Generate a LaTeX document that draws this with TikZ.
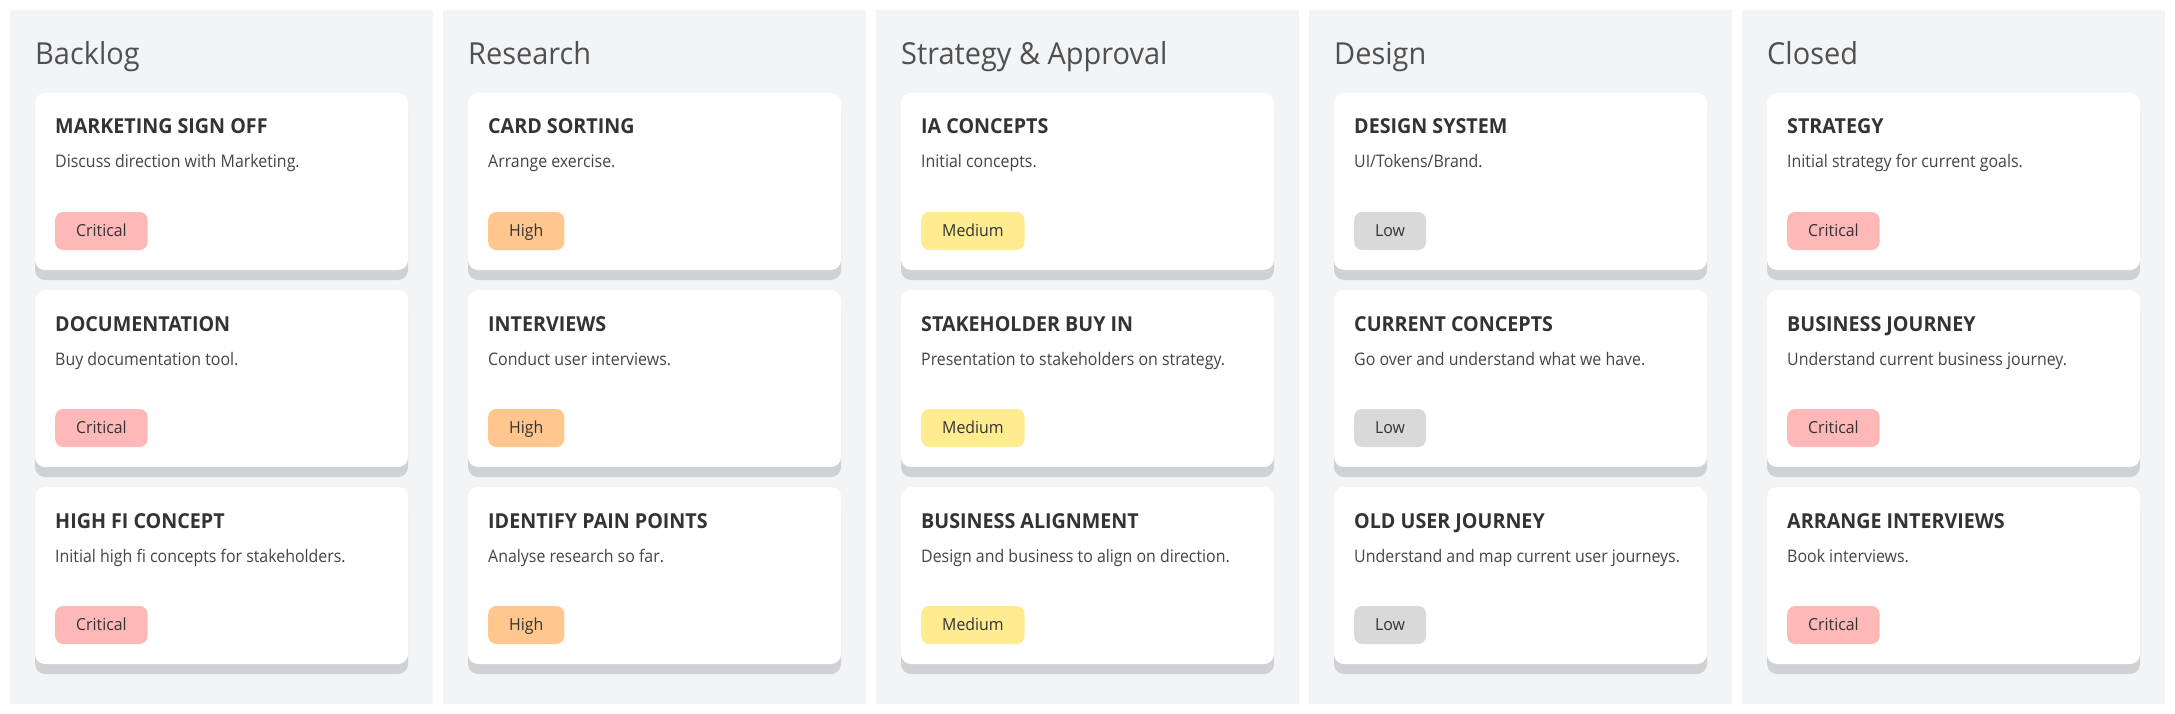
\documentclass[tikz,border=0pt]{standalone}
\usepackage{fontspec}
\setmainfont{Open Sans}
\newfontfamily\kbfont[FakeStretch=0.955]{Open Sans}
\newfontfamily\kbdescfont[FakeStretch=0.92]{Open Sans}
\definecolor{colbg}{HTML}{F3F4F6}
\definecolor{shadowc}{HTML}{D0D1D4}
\definecolor{coltext}{HTML}{505050}
\definecolor{titletext}{HTML}{333333}
\definecolor{desctext}{HTML}{444444}
\definecolor{badgetext}{HTML}{333333}
\definecolor{critc}{HTML}{FFB8B8}
\definecolor{highc}{HTML}{FFC68E}
\definecolor{medc}{HTML}{FFEC90}
\definecolor{lowc}{HTML}{D9D9D9}
\tikzset{
  column/.style={fill=colbg, draw=none, minimum width=423pt, minimum height=694pt, anchor=north west, inner sep=0pt, outer sep=0pt},
  coltitle/.style={anchor=base west, inner sep=0pt, text=coltext, font=\kbfont\fontsize{30.3}{36}\selectfont},
  cardbox/.style={fill=white, draw=none, rounded corners=10pt, minimum width=373pt, minimum height=177pt, anchor=north west, inner sep=0pt, outer sep=0pt},
  cardshadow/.style={cardbox, fill=shadowc},
  ctitle/.style={anchor=base west, inner sep=0pt, text=titletext, font=\kbfont\fontsize{20.6}{25}\selectfont\bfseries},
  cdesc/.style={anchor=base west, inner sep=0pt, text=desctext, font=\kbdescfont\fontsize{17.3}{22}\selectfont},
  badge/.style={anchor=west, draw=none, rounded corners=8pt, inner xsep=21pt, inner ysep=0pt, minimum height=38pt, text height=11.9pt, text depth=0pt, text=badgetext, font=\kbfont\fontsize{16.6}{20}\selectfont},
  prioCritical/.style={badge, fill=critc},
  prioHigh/.style={badge, fill=highc},
  prioMedium/.style={badge, fill=medc},
  prioLow/.style={badge, fill=lowc},
}
\newcommand\kcard[6]{%
  \node[cardshadow] (#1s) at (#2+25, #3+10) {};
  \node[cardbox] (#1) at (#2+25, #3) {};
  \node[ctitle] (#1t) at (#2+45, #3+41) {#4};
  \node[cdesc] (#1d) at (#2+45, #3+75) {#5};
  \node[prio#6] (#1b) at (#2+45, #3+138) {#6};
}
\begin{document}
\begin{tikzpicture}[x=1pt, y=-1pt]
  \useasboundingbox (0,0) rectangle (2175,714);
  % columns
  \node[column] (col1) at (10,10) {};
  \node[column] (col2) at (443,10) {};
  \node[column] (col3) at (876,10) {};
  \node[column] (col4) at (1309,10) {};
  \node[column] (col5) at (1742,10) {};
  \node[coltitle] (h1) at (35,65) {Backlog};
  \node[coltitle] (h2) at (468,65) {Research};
  \node[coltitle] (h3) at (901,65) {Strategy \& Approval};
  \node[coltitle] (h4) at (1334,65) {Design};
  \node[coltitle] (h5) at (1767,65) {Closed};
  % Backlog
  \kcard{a1}{10}{93}{MARKETING SIGN OFF}{Discuss direction with Marketing.}{Critical}
  \kcard{a2}{10}{290}{DOCUMENTATION}{Buy documentation tool.}{Critical}
  \kcard{a3}{10}{487}{HIGH FI CONCEPT}{Initial high fi concepts for stakeholders.}{Critical}
  % Research
  \kcard{b1}{443}{93}{CARD SORTING}{Arrange exercise.}{High}
  \kcard{b2}{443}{290}{INTERVIEWS}{Conduct user interviews.}{High}
  \kcard{b3}{443}{487}{IDENTIFY PAIN POINTS}{Analyse research so far.}{High}
  % Strategy & Approval
  \kcard{c1}{876}{93}{IA CONCEPTS}{Initial concepts.}{Medium}
  \kcard{c2}{876}{290}{STAKEHOLDER BUY IN}{Presentation to stakeholders on strategy.}{Medium}
  \kcard{c3}{876}{487}{BUSINESS ALIGNMENT}{Design and business to align on direction.}{Medium}
  % Design
  \kcard{d1}{1309}{93}{DESIGN SYSTEM}{UI/Tokens/Brand.}{Low}
  \kcard{d2}{1309}{290}{CURRENT CONCEPTS}{Go over and understand what we have.}{Low}
  \kcard{d3}{1309}{487}{OLD USER JOURNEY}{Understand and map current user journeys.}{Low}
  % Closed
  \kcard{e1}{1742}{93}{STRATEGY}{Initial strategy for current goals.}{Critical}
  \kcard{e2}{1742}{290}{BUSINESS JOURNEY}{Understand current business journey.}{Critical}
  \kcard{e3}{1742}{487}{ARRANGE INTERVIEWS}{Book interviews.}{Critical}
\end{tikzpicture}
\end{document}
